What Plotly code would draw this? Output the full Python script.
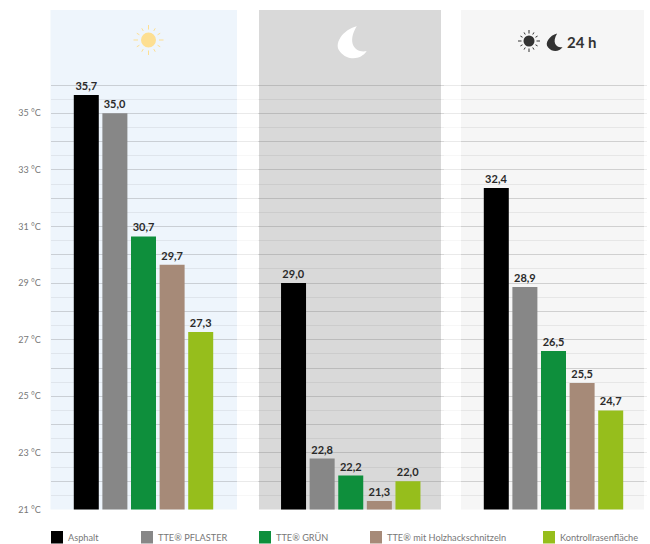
import math
import plotly.graph_objects as go

W, H = 650, 544

periods = ["Tag", "Nacht", "24 h"]
series_names = ["Asphalt", "TTE® PFLASTER", "TTE® GRÜN", "TTE® mit Holzhackschnitzeln", "Kontrollrasenfläche"]
colors = ["#000000", "#878787", "#0E8F3C", "#A68A78", "#96BE1C"]

asphalt = [35.65, 29.0, 32.36]
pflaster = [35.0, 22.8, 28.86]
gruen = [30.65, 22.2, 26.6]
holz = [29.65, 21.3, 25.47]
kontroll = [27.27, 22.0, 24.5]
series_values = [asphalt, pflaster, gruen, holz, kontroll]

asphalt_labels = ["35,7", "29,0", "32,4"]
pflaster_labels = ["35,0", "22,8", "28,9"]
gruen_labels = ["30,7", "22,2", "26,5"]
holz_labels = ["29,7", "21,3", "25,5"]
kontroll_labels = ["27,3", "22,0", "24,7"]
series_labels = [asphalt_labels, pflaster_labels, gruen_labels, holz_labels, kontroll_labels]

major_ticks = list(range(21, 37))
tick_text = [f"{t} °C" if t % 2 == 1 and t < 36 else "" for t in major_ticks]
minor_ticks = [t + 0.5 for t in range(21, 36)]

FONT = "Lato"
AXIS_BOTTOM, AXIS_TOP = 509.5, 70.85


def px(x):
    return x / W


def py(y):
    return 1 - y / H


fig = go.Figure()
group_domains = [(50.5, 236.5), (257.75, 443.75), (460.5, 646.5)]
axis_names = ["x2", "x3", "x4"]

# empty trace: keeps the full-width base subplot so the grid runs across the panel gaps
fig.add_trace(go.Scatter(x=[0.5], y=[21], xaxis="x", yaxis="y", mode="markers",
                         marker=dict(opacity=0), showlegend=False, hoverinfo="skip"))

for s, name in enumerate(series_names):
    for p, period in enumerate(periods):
        fig.add_trace(go.Bar(
            x=[period], y=[series_values[s][p]], name=name,
            xaxis=axis_names[p], yaxis="y",
            marker=dict(color=colors[s], line=dict(width=0)),
            text=[series_labels[s][p]], textposition="outside",
            textfont=dict(family=FONT, size=11, color="#2A2A2A", weight="bold"),
            constraintext="none", showlegend=False,
        ))

shapes = []


def rect(x0, y0, x1, y1, color, layer="below"):
    shapes.append(dict(type="rect", xref="paper", yref="paper", x0=px(x0), x1=px(x1),
                       y0=py(y0), y1=py(y1), fillcolor=color, line=dict(width=0), layer=layer))


# panels
rect(50.5, 10, 237, 509.5, "#EEF5FC")
rect(259, 10, 441, 509.5, "#D9D9D9")
rect(461, 10, 644, 509.5, "#F6F6F6")


def sun(cx, cy, r, r0, r1, color, ray_w):
    shapes.append(dict(type="circle", xref="paper", yref="paper",
                       x0=px(cx - r), x1=px(cx + r), y0=py(cy + r), y1=py(cy - r),
                       fillcolor=color, line=dict(width=0), layer="above"))
    for i in range(12):
        a = i * math.pi / 6
        k = 1.0 if i % 3 == 0 else 0.9
        shapes.append(dict(type="line", xref="paper", yref="paper",
                           x0=px(cx + r0 * math.cos(a)), x1=px(cx + r1 * k * math.cos(a)),
                           y0=py(cy + r0 * math.sin(a)), y1=py(cy + r1 * k * math.sin(a)),
                           line=dict(color=color, width=ray_w), layer="above"))


def moon(cx, cy, r, color):
    # crescent opening to the upper right
    a = (cx + 0.35 * r, cy - 0.95 * r)
    b = (cx + 0.95 * r, cy + 0.55 * r)
    path = (f"M{px(a[0])},{py(a[1])} "
            f"C{px(cx - 0.5 * r)},{py(cy - 0.75 * r)} {px(cx - 1.1 * r)},{py(cy + 0.15 * r)} {px(cx - 0.65 * r)},{py(cy + 0.6 * r)} "
            f"C{px(cx - 0.2 * r)},{py(cy + 1.15 * r)} {px(cx + 0.6 * r)},{py(cy + 1.1 * r)} {px(b[0])},{py(b[1])} "
            f"C{px(cx + 0.3 * r)},{py(cy + 0.7 * r)} {px(cx - 0.3 * r)},{py(cy + 0.1 * r)} {px(a[0])},{py(a[1])} Z")
    shapes.append(dict(type="path", xref="paper", yref="paper", path=path,
                       fillcolor=color, line=dict(width=0), layer="above"))


sun(148.5, 40, 7.5, 10.5, 15, "#FDDF92", 1)
moon(351, 42, 16.5, "#FFFFFF")
sun(529, 41, 5.5, 7.5, 11, "#333333", 1)
moon(554, 42, 9, "#333333")

# legend
legend_x = [51, 141, 259, 370, 543]
annotations = []
for x, c, name in zip(legend_x, colors, series_names):
    rect(x, 531, x + 12, 543.5, c, layer="above")
    annotations.append(dict(text=name, xref="paper", yref="paper", x=px(x + 15), y=py(537.5),
                            xanchor="left", yanchor="middle", showarrow=False,
                            font=dict(family=FONT, size=9.2, color="#777777")))

annotations.append(dict(text="<b>24 h</b>", xref="paper", yref="paper", x=px(565), y=py(41.5),
                        xanchor="left", yanchor="middle", showarrow=False,
                        font=dict(family=FONT, size=15, color="#333333")))

layout_axes = {}
for name, dom in zip(["xaxis2", "xaxis3", "xaxis4"], group_domains):
    layout_axes[name] = dict(domain=[px(dom[0]), px(dom[1])], anchor="y", visible=False,
                             type="category", range=[-0.5, 0.5], fixedrange=True)

fig.update_layout(
    width=W, height=H, autosize=False,
    margin=dict(l=0, r=0, t=0, b=0, autoexpand=False),
    paper_bgcolor="white", plot_bgcolor="rgba(0,0,0,0)",
    barmode="group", bargap=0.231, bargroupgap=0.126,
    font=dict(family=FONT),
    xaxis=dict(domain=[px(50.5), px(644)], anchor="y", range=[0, 1], visible=False),
    yaxis=dict(domain=[py(AXIS_BOTTOM), py(AXIS_TOP)], anchor="x", range=[21, 36.5],
               tickmode="array", tickvals=major_ticks, ticktext=tick_text,
               showline=False, zeroline=False, showgrid=True,
               gridcolor="rgba(90,90,90,0.13)", gridwidth=1,
               ticks="outside", ticklen=7, tickcolor="rgba(0,0,0,0)",
               tickfont=dict(family=FONT, size=9, color="#777777"),
               minor=dict(tickmode="array", tickvals=minor_ticks, showgrid=True,
                          gridcolor="rgba(90,90,90,0.05)", gridwidth=1, ticks="")),
    shapes=shapes, annotations=annotations,
    **layout_axes,
)

fig.write_html("out.html", config=dict(displayModeBar=False),
               post_script="document.body.style.margin='0';document.body.style.overflow='hidden';")
